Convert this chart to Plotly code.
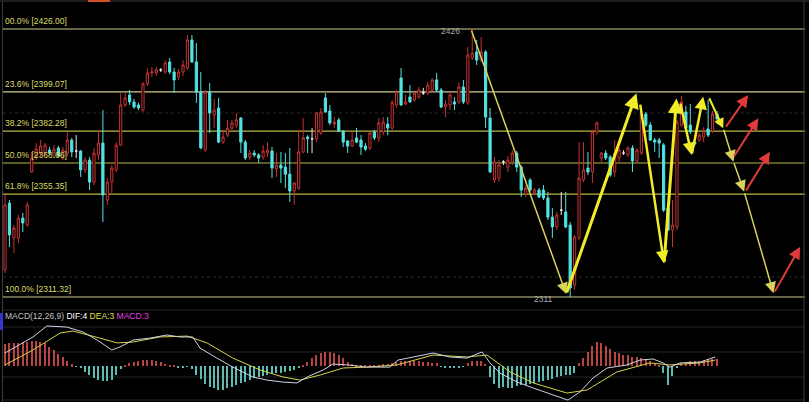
import plotly.graph_objects as go

# ---------------- data ----------------
opens = [2322.9, 2351.5, 2336.6, 2336.6, 2345.1, 2342.1, 2364.8, 2371.2, 2372.9, 2372.9,
         2374.2, 2372.9, 2375.1, 2370.8, 2372.9, 2378.5, 2373.8, 2373.8, 2365.7, 2369.9,
         2360.5, 2372.1, 2377.2, 2352.8, 2360.5, 2365.7, 2376.3, 2393.5, 2397.8, 2394.8,
         2393.5, 2391.3, 2402.5, 2407.2, 2407.2, 2408.5, 2407.6, 2411.9, 2407.6, 2405.5,
         2407.6, 2409.3, 2421.3, 2411.9, 2399.0, 2374.2, 2399.0, 2389.2, 2392.2, 2377.6,
         2380.6, 2383.6, 2384.9, 2387.9, 2377.6, 2371.2, 2372.9, 2372.1, 2371.2, 2372.9,
         2373.8, 2366.1, 2367.8, 2366.9, 2363.9, 2356.7, 2358.0, 2373.4, 2379.8, 2379.0,
         2379.0, 2381.5, 2396.5, 2390.9, 2385.3, 2387.1, 2382.3, 2378.1, 2375.9, 2379.4,
         2378.5, 2375.9, 2375.1, 2381.9, 2379.4, 2381.9, 2385.3, 2383.6, 2393.5, 2405.0,
         2393.9, 2396.9, 2395.6, 2396.9, 2398.6, 2398.6, 2399.9, 2404.2, 2399.9, 2392.6,
         2393.5, 2394.8, 2394.8, 2401.2, 2394.4, 2413.6, 2416.2, 2412.7, 2416.2, 2387.9,
         2361.4, 2362.2, 2369.1, 2366.9, 2369.1, 2372.9, 2366.9, 2355.4, 2361.4, 2355.8,
         2357.1, 2357.1, 2353.7, 2345.5, 2341.3, 2348.5, 2347.7, 2342.1, 2316.4, 2336.6,
         2361.4, 2366.5, 2364.8, 2381.9, 2370.8, 2372.9, 2371.2, 2364.8, 2370.8, 2372.9,
         2372.1, 2375.1, 2369.5, 2372.9, 2389.6, 2384.9, 2378.5, 2378.5, 2376.4, 2349.4,
         2340.0, 2341.3, 2384.9, 2390.5, 2384.9, 2377.6, 2378.5, 2379.8, 2383.2, 2382.3,
         2389.6]
highs = [2355.0, 2352.8, 2342.1, 2346.4, 2347.3, 2352.0, 2373.4, 2377.2, 2378.5, 2377.2,
         2375.5, 2376.3, 2375.9, 2375.5, 2381.9, 2379.4, 2380.6, 2374.2, 2371.2, 2371.2,
         2375.1, 2382.8, 2391.3, 2362.2, 2367.9, 2377.6, 2398.6, 2398.6, 2399.9, 2396.1,
         2394.4, 2403.3, 2409.2, 2409.7, 2409.7, 2409.3, 2412.7, 2413.6, 2409.3, 2408.9,
         2412.7, 2423.4, 2423.4, 2420.0, 2407.6, 2399.9, 2402.9, 2396.1, 2396.5, 2382.8,
         2387.1, 2387.1, 2390.0, 2388.3, 2378.5, 2374.2, 2374.2, 2372.9, 2376.3, 2377.6,
         2375.5, 2372.9, 2373.4, 2372.9, 2375.1, 2360.5, 2382.8, 2387.9, 2380.6, 2383.6,
         2390.5, 2392.2, 2398.6, 2393.5, 2388.3, 2387.9, 2382.8, 2378.5, 2381.9, 2383.6,
         2380.6, 2377.2, 2381.9, 2382.8, 2387.9, 2388.3, 2388.3, 2395.6, 2399.9, 2409.3,
         2397.8, 2402.0, 2398.6, 2401.2, 2400.8, 2403.3, 2405.0, 2407.2, 2400.8, 2395.6,
         2399.0, 2396.9, 2403.3, 2404.2, 2418.3, 2426.0, 2421.3, 2422.6, 2417.0, 2392.2,
         2371.2, 2369.9, 2369.9, 2371.6, 2374.2, 2373.8, 2367.8, 2359.2, 2362.2, 2358.0,
         2358.0, 2359.2, 2356.3, 2349.4, 2347.7, 2356.3, 2356.3, 2343.4, 2337.8, 2377.6,
         2377.6, 2373.4, 2382.8, 2386.6, 2373.4, 2374.2, 2372.1, 2378.5, 2375.1, 2374.2,
         2375.9, 2376.3, 2375.1, 2390.5, 2390.5, 2386.2, 2379.4, 2379.4, 2377.2, 2350.7,
         2352.8, 2387.1, 2397.3, 2393.1, 2394.0, 2378.5, 2381.5, 2384.0, 2395.6, 2390.9,
         2390.9]
lows = [2321.6, 2332.7, 2330.1, 2334.4, 2339.1, 2341.3, 2364.4, 2369.9, 2371.2, 2371.6,
        2372.1, 2370.8, 2371.6, 2369.9, 2371.6, 2371.2, 2370.8, 2362.7, 2364.4, 2357.1,
        2359.2, 2369.9, 2343.4, 2350.7, 2355.0, 2364.8, 2375.9, 2392.6, 2393.5, 2391.8,
        2391.3, 2390.5, 2401.6, 2405.5, 2405.9, 2407.6, 2406.7, 2406.7, 2398.6, 2404.2,
        2405.9, 2408.5, 2411.5, 2394.4, 2374.6, 2373.4, 2381.5, 2383.6, 2377.2, 2376.8,
        2379.8, 2382.8, 2383.6, 2372.9, 2369.9, 2369.9, 2371.2, 2368.7, 2369.9, 2371.2,
        2362.2, 2362.7, 2360.1, 2358.0, 2352.0, 2350.7, 2357.1, 2372.9, 2372.9, 2372.9,
        2377.6, 2380.6, 2390.1, 2384.9, 2383.6, 2381.9, 2375.5, 2372.9, 2375.5, 2377.2,
        2372.1, 2373.8, 2374.2, 2378.5, 2377.6, 2380.6, 2380.6, 2382.8, 2392.2, 2393.1,
        2393.5, 2394.4, 2394.8, 2396.1, 2397.8, 2397.8, 2399.0, 2399.0, 2392.2, 2388.3,
        2391.3, 2391.3, 2393.9, 2393.9, 2393.5, 2412.7, 2410.6, 2411.9, 2383.6, 2364.4,
        2360.1, 2360.5, 2367.8, 2364.8, 2367.8, 2364.8, 2354.1, 2354.1, 2356.3, 2355.0,
        2353.7, 2352.8, 2344.3, 2336.6, 2340.0, 2346.4, 2340.8, 2311.3, 2314.3, 2335.7,
        2360.5, 2363.5, 2360.1, 2380.6, 2369.1, 2369.9, 2362.7, 2362.7, 2369.1, 2372.1,
        2371.2, 2364.8, 2369.1, 2372.1, 2384.0, 2378.1, 2373.4, 2370.8, 2347.7, 2339.5,
        2332.7, 2340.0, 2384.0, 2383.2, 2381.1, 2375.9, 2377.6, 2377.6, 2379.8, 2381.5,
        2385.3]
closes = [2350.7, 2337.9, 2340.8, 2345.1, 2343.0, 2350.7, 2370.8, 2374.6, 2375.9, 2376.3,
          2372.9, 2374.6, 2371.6, 2374.2, 2378.5, 2373.4, 2373.8, 2365.7, 2369.9, 2360.5,
          2372.9, 2377.2, 2355.0, 2360.5, 2366.5, 2376.3, 2393.5, 2396.5, 2394.8, 2392.6,
          2392.2, 2402.5, 2407.2, 2407.6, 2408.5, 2408.5, 2411.5, 2407.6, 2404.2, 2407.6,
          2410.6, 2421.3, 2411.9, 2399.0, 2375.1, 2399.0, 2390.1, 2391.3, 2377.6, 2379.8,
          2383.6, 2385.8, 2387.1, 2377.6, 2370.8, 2372.9, 2372.1, 2370.8, 2373.8, 2374.2,
          2366.5, 2367.8, 2366.5, 2363.9, 2356.7, 2360.1, 2373.4, 2379.4, 2379.0, 2379.0,
          2390.1, 2390.5, 2390.5, 2385.8, 2386.2, 2382.3, 2377.6, 2375.9, 2378.5, 2377.6,
          2375.5, 2374.6, 2381.5, 2379.4, 2385.8, 2386.2, 2383.6, 2394.4, 2399.0, 2393.5,
          2394.8, 2394.8, 2398.6, 2399.9, 2398.6, 2402.0, 2404.2, 2399.9, 2392.6, 2393.9,
          2397.8, 2393.9, 2401.2, 2394.8, 2414.9, 2415.7, 2412.7, 2416.2, 2388.3, 2364.8,
          2369.1, 2367.8, 2369.1, 2369.9, 2372.9, 2366.9, 2357.1, 2357.9, 2357.1, 2357.1,
          2354.1, 2353.7, 2345.5, 2341.3, 2346.4, 2348.5, 2341.3, 2315.2, 2337.0, 2362.2,
          2365.7, 2364.8, 2381.9, 2385.8, 2372.9, 2370.8, 2363.5, 2372.9, 2374.2, 2372.9,
          2375.1, 2369.5, 2374.2, 2389.6, 2384.9, 2378.5, 2377.6, 2377.2, 2348.5, 2340.0,
          2342.1, 2386.2, 2394.8, 2383.6, 2382.0, 2376.8, 2380.6, 2382.3, 2380.6, 2389.6,
          2387.5]
bars_idx = list(range(len(closes)))

# MACD histogram (one per bar)
macd_hist = [10, 10.3, 10.5, 10.5, 11, 11, 11.5, 11.5, 11, 10.5, 8.8, 7.5, 5.5, 4, 2.5, 0.8,
             -0.3, -1, -2.5, -4, -5.5, -6.4, -7, -7, -6.4, -4, -1.5,
             0.5, 1.2, 2, 2.5, 2.7, 2.8, 2.7, 2.5, 2, 1, 0.5,
             0.2, -0.5, -0.6, -0.3,
             -1.5, -4, -6, -8, -9.4, -10.2, -10.9, -10.9, -10.2, -9.4, -8.5, -7.5, -7.1, -6.3,
             -5.5, -4.8, -4.4, -4.1, -3.7, -3.3, -3, -2.6, -2.2, -1.8, -1.1,
             0.3, 2, 3.6, 5, 5.8, 6.5, 6.5, 6, 5, 3.5, 2, 1,
             0.5, 0.3, 0.2, 0.3, 0.5, 0.5, 0.8, 1, 1.5, 1.8, 2.2, 2.5, 2.5, 2.5, 2.3, 2, 1.8, 1.5, 1.2,
             -0.3, -0.5, -0.8, -0.5, -0.8, -0.3,
             1.5, 2.2, 2.5, 2.5, 1,
             -5, -8, -10, -9.5, -10, -10, -9, -8.8, -8.5, -8, -7.8, -7.3, -7, -6.5, -6, -5.2,
             -4.5, -4.2, -4, -3.3,
             1.2, 3.5, 6.5, 9, 11, 10.5, 9, 7.8, 6.5, 5.8, 5, 4.8, 4.3, 4.2, 3.8, 3.3,
             2.5, 1.5, 0.5,
             -3, -8.6, -4.5, -1,
             1.5, 2, 2.2, 2.3, 2.5, 2.7, 3, 3, 3]

dif_x = [0, 6.3, 9.4, 13.9, 17.5, 20.7, 24, 25.8, 28.8, 32.6, 36.4, 39.3, 42.2, 43.8, 47.6,
         51.2, 55.7, 58.9, 62.5, 65.6, 67.9, 71.5, 73.7, 76.9, 81.3, 86.5, 88.3, 96.2, 100,
         103.8, 107.2, 109, 111.2, 115.1, 118.7, 123.1, 126.5, 129.2, 132.1, 135.3, 139.8,
         142.7, 145.6, 147.9, 149.4, 151.7, 156.2, 159.6]
dif_v = [5.9, 13.2, 18.2, 17.7, 15.5, 11.8, 7.3, 8.6, 11.8, 12.7, 14.1, 13.2, 13.2, 8.2, 3.6,
         -0.5, -5, -6.4, -7.3, -7.7, -5, -1.8, 0.9, 0.5, -0.5, -0.5, 2.7, 5.9, 4.1,
         3.6, 6.4, 1.4, -3.2, -7.3, -10, -13.2, -15.5, -11.8, -5.5, -0.9, 0.5,
         2.7, 3.2, 1.4, -0.5, 1.4, 1.8, 4.1]
dea_x = [0, 6.3, 12.4, 15.3, 21.3, 25.2, 28.8, 34.8, 40.9, 45.4, 51.2, 57.3, 62.5, 66.3, 70.8,
         76, 81.3, 88.1, 96.2, 103.8, 108.3, 113.5, 118.7, 126.3, 130.8, 137.5, 144.9, 149.4,
         156.2, 159.6]
dea_v = [0.5, 7.3, 15, 15.9, 12.7, 10.5, 10.9, 13.2, 13.6, 10.5, 3.6, -1.8, -5, -6.4, -4.1,
         -0.9, -0.5, 0.5, 5, 4.1, 5, -2.7, -7.7, -12.3, -10.9, -2.7, 1.4, 0.5, 1.4, 2.7]

fib_pcts = ["00.0%", "23.6%", "38.2%", "50.0%", "61.8%", "100.0%"]
fib_levels = [2426.00, 2399.07, 2382.28, 2368.66, 2355.35, 2311.32]

# analyst drawing (bar index, price)
yellow_from = [(104.7, 2426.0), (126.1, 2312.6), (142.7, 2394.3), (148.1, 2325.7),
               (151.7, 2394.8), (154.3, 2372.1), (158.1, 2397.0), (161.4, 2383.5),
               (163.7, 2369.2), (166.1, 2356.4)]
yellow_to = [(126.1, 2312.6), (141.9, 2398.5), (148.1, 2325.7), (150.9, 2396.3),
             (154.3, 2372.1), (156.9, 2397.0), (161.4, 2383.5), (163.7, 2369.2),
             (166.1, 2356.4), (172.7, 2312.9)]
yellow_w = [1.5, 3, 2.5, 3, 2.5, 2.5, 2, 1.5, 1.5, 1.5]
red_from = [(161.8, 2383.6), (163.6, 2370.8), (166.3, 2356.2), (172.8, 2313.0)]
red_to = [(167.0, 2397.8), (169.3, 2387.8), (171.9, 2373.5), (178.7, 2332.8)]

# ---------------- figure ----------------
W, H = 809, 402
UP, DOWN = "#c83232", "#52e2e2"
XR = [-1.124, 180.67]

fig = go.Figure()

def sel(cond):
    ii = [i for i in bars_idx if cond(i)]
    return (ii, [opens[i] for i in ii], [highs[i] for i in ii],
            [lows[i] for i in ii], [closes[i] for i in ii])

for cond, lc, fc in [
    (lambda i: closes[i] > opens[i], UP, "#000000"),
    (lambda i: closes[i] < opens[i], DOWN, DOWN),
    (lambda i: closes[i] == opens[i], "#e8e8e8", "#e8e8e8"),
]:
    xi, o, h, l, c = sel(cond)
    fig.add_trace(go.Candlestick(
        x=xi, open=o, high=h, low=l, close=c,
        increasing=dict(line=dict(color=lc, width=1), fillcolor=fc),
        decreasing=dict(line=dict(color=lc, width=1), fillcolor=fc),
        whiskerwidth=0, showlegend=False, hoverinfo="skip",
        xaxis="x", yaxis="y"))

# MACD
fig.add_trace(go.Bar(
    x=bars_idx, y=macd_hist, width=0.28,
    marker=dict(color=["#b84444" if v >= 0 else "#5cbcb2" for v in macd_hist], line=dict(width=0)),
    showlegend=False, hoverinfo="skip", xaxis="x2", yaxis="y2"))
fig.add_trace(go.Scatter(x=dea_x, y=dea_v, mode="lines", line=dict(color="#d8d44c", width=1),
                         showlegend=False, hoverinfo="skip", xaxis="x2", yaxis="y2"))
fig.add_trace(go.Scatter(x=dif_x, y=dif_v, mode="lines", line=dict(color="#cfd2e6", width=1),
                         showlegend=False, hoverinfo="skip", xaxis="x2", yaxis="y2"))

shapes = []
# fib lines
for k, lv in enumerate(fib_levels):
    col = "#cfcb8c" if k in (0, 1, 5) else "#b9b845"
    shapes.append(dict(type="line", xref="x", yref="y", x0=-0.45, x1=179.8, y0=lv, y1=lv,
                       line=dict(color=col, width=1.2), layer="below"))
# faint grid main
for yp in [113, 277]:
    shapes.append(dict(type="line", xref="paper", yref="paper", x0=3 / W, x1=804 / W,
                       y0=1 - yp / H, y1=1 - yp / H, line=dict(color="#2a2a2a", width=1, dash="dot"),
                       layer="below"))
# MACD grid
for yp in [310, 327, 352, 377, 400]:
    shapes.append(dict(type="line", xref="paper", yref="paper", x0=3 / W, x1=804 / W,
                       y0=1 - yp / H, y1=1 - yp / H, line=dict(color="#262626", width=1),
                       layer="below"))
# frame
for (x0, y0, x1, y1) in [(2.5, 1, 2.5, 402), (804, 1, 804, 402), (0, 1, 809, 1)]:
    shapes.append(dict(type="line", xref="paper", yref="paper", x0=x0 / W, x1=x1 / W,
                       y0=1 - y0 / H, y1=1 - y1 / H, line=dict(color="#3c3c3c", width=1)))
shapes.append(dict(type="line", xref="paper", yref="paper", x0=88 / W, x1=110 / W,
                   y0=1 - 1 / H, y1=1 - 1 / H, line=dict(color="#d0502a", width=2)))
shapes.append(dict(type="rect", xref="paper", yref="paper", x0=0, x1=3 / W,
                   y0=1 - 330 / H, y1=1 - 313 / H, fillcolor="#3535c8", line=dict(width=0)))

annotations = []
for pct, lv in zip(fib_pcts, fib_levels):
    annotations.append(dict(xref="x", yref="y", x=-0.55, y=lv, text=f"{pct} [{lv:.2f}]",
                            xanchor="left", yanchor="bottom", yshift=1, showarrow=False,
                            font=dict(family="Liberation Sans, Arial", size=8.5, color="#dcdc6a")))
annotations.append(dict(xref="x", yref="y", x=100.2, y=2425.1, text="2426", showarrow=False,
                        font=dict(family="Liberation Sans, Arial", size=8.5, color="#a8a8a8")))
annotations.append(dict(xref="x", yref="y", x=120.9, y=2310.5, text="2311", showarrow=False,
                        font=dict(family="Liberation Sans, Arial", size=8.5, color="#a8a8a8")))

for (a, b, w) in zip(yellow_from, yellow_to, yellow_w):
    col = "#f2ec28" if w >= 2 else "#d8d25a"
    annotations.append(dict(xref="x", yref="y", axref="x", ayref="y", x=b[0], y=b[1],
                            ax=a[0], ay=a[1], text="", showarrow=True, arrowhead=2,
                            arrowsize=1.0 if w >= 2 else 1.5, arrowwidth=w, arrowcolor=col,
                            standoff=0, startstandoff=0))
for (a, b) in zip(red_from, red_to):
    annotations.append(dict(xref="x", yref="y", axref="x", ayref="y", x=b[0], y=b[1],
                            ax=a[0], ay=a[1], text="", showarrow=True, arrowhead=2,
                            arrowsize=1.2, arrowwidth=2, arrowcolor="#e03a3a",
                            standoff=0, startstandoff=0))

annotations.append(dict(
    xref="paper", yref="paper", x=3 / W, y=1 - 316 / H, xanchor="left", yanchor="middle",
    showarrow=False,
    text=('<span style="color:#c4c4c4">MACD(12,26,9)</span> '
          '<span style="color:#ffffff">DIF:4</span> '
          '<span style="color:#e2e04a">DEA:3</span> '
          '<span style="color:#e044e0">MACD:3</span>'),
    font=dict(family="Liberation Sans, Arial", size=8.5, color="#c4c4c4")))

split = 1 - 303 / H
fig.update_layout(
    width=W, height=H, margin=dict(l=0, r=0, t=0, b=0),
    paper_bgcolor="#000000", plot_bgcolor="#000000",
    xaxis=dict(range=XR, domain=[0, 1], visible=False, rangeslider=dict(visible=False),
               anchor="y"),
    yaxis=dict(range=[2308.76, 2438.41], domain=[split, 1], visible=False),
    xaxis2=dict(range=XR, domain=[0, 1], visible=False, anchor="y2"),
    yaxis2=dict(range=[-16.36, 28.64], domain=[0, split], visible=False),
    shapes=shapes, annotations=annotations, showlegend=False, bargap=0,
)

fig.write_html("out.html",
               config={"displayModeBar": False},
               post_script="document.body.style.margin='0';document.body.style.padding='0';"
                           "document.body.style.overflow='hidden';"
                           "document.body.style.background='#000';")
